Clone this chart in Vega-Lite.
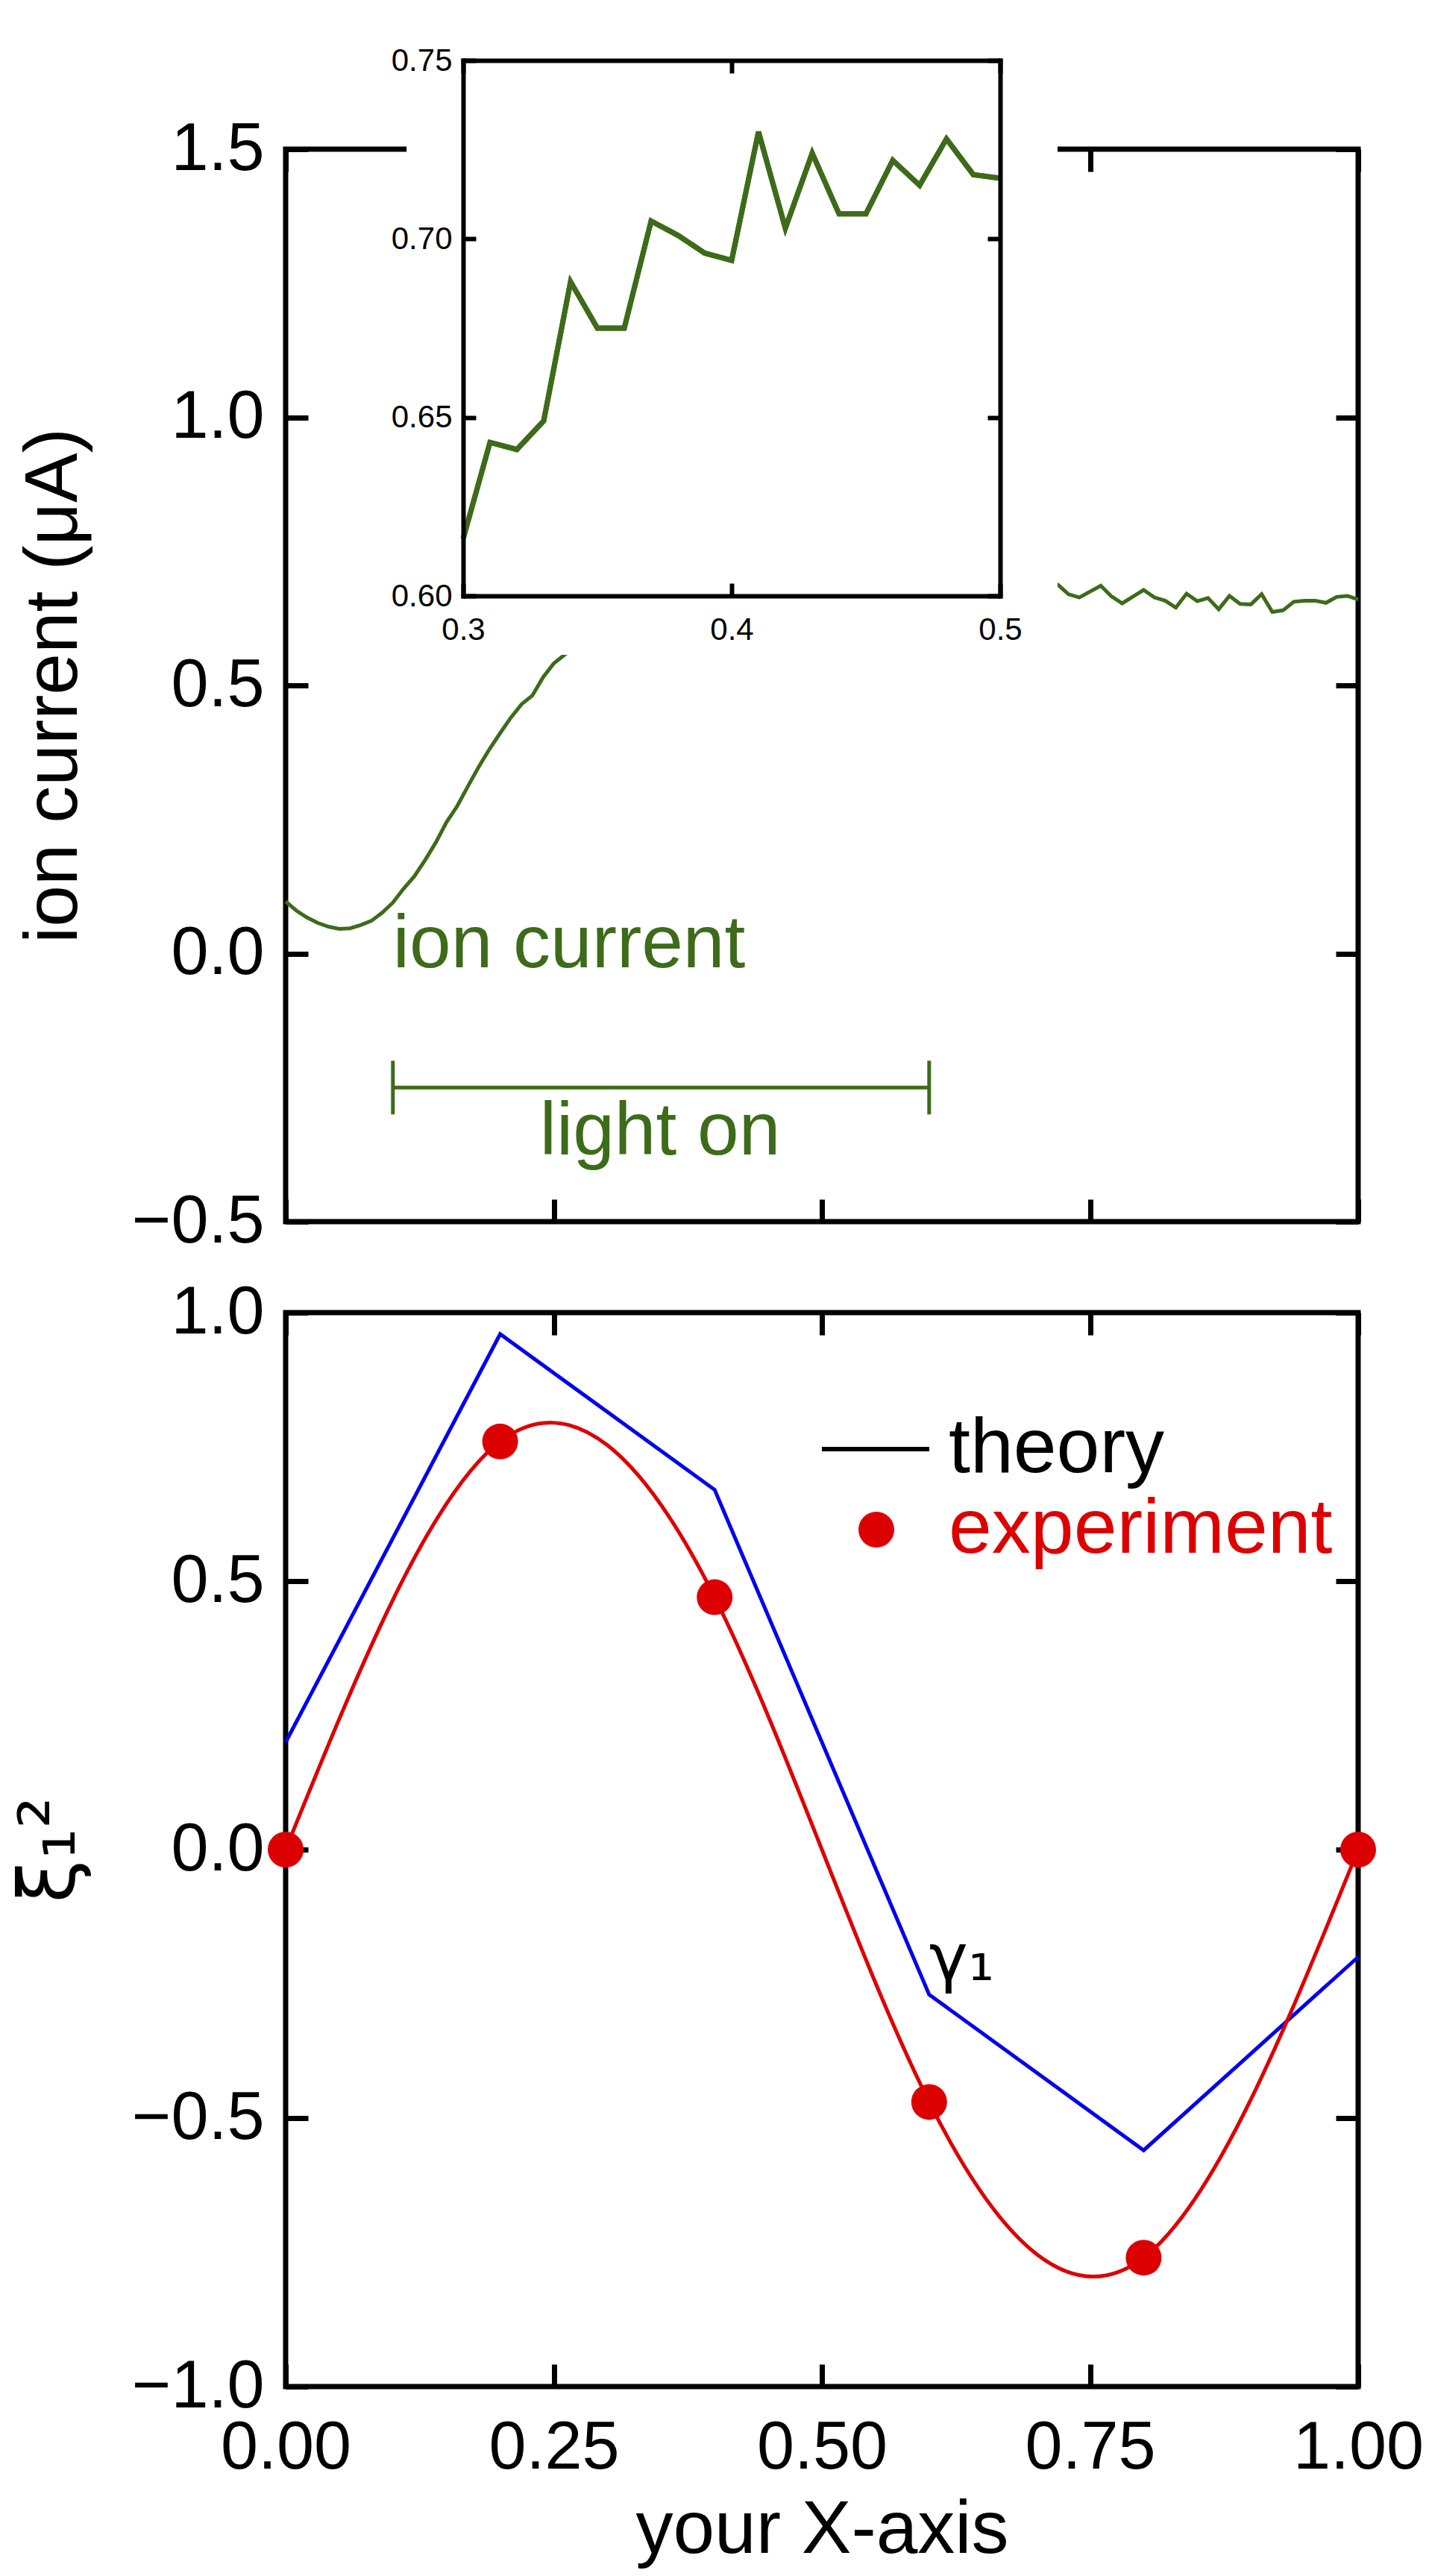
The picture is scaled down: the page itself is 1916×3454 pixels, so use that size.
{
  "$schema": "https://vega.github.io/schema/vega-lite/v6.json",
  "background": "white",
  "padding": {"left": 11, "top": 56, "right": 0, "bottom": 0},
  "spacing": 24,
  "config": {
    "view": {"stroke": "black", "strokeWidth": 7},
    "font": "Liberation Sans",
    "axis": {
      "grid": false,
      "domain": false,
      "tickColor": "black",
      "tickWidth": 7,
      "tickSize": -30,
      "tickCap": "butt",
      "labelFont": "Liberation Sans",
      "labelFontSize": 90,
      "labelColor": "black",
      "labelFlush": false,
      "labelOverlap": false,
      "labelBound": false,
      "titleFont": "Liberation Sans",
      "titleFontSize": 100,
      "titleFontWeight": "normal",
      "titleColor": "black"
    }
  },
  "datasets": {
    "ion": [
      {"x": 0.00, "y": 0.097}, {"x": 0.01, "y": 0.080}, {"x": 0.02, "y": 0.067}, {"x": 0.03, "y": 0.057},
      {"x": 0.04, "y": 0.050}, {"x": 0.05, "y": 0.046}, {"x": 0.06, "y": 0.047}, {"x": 0.07, "y": 0.053},
      {"x": 0.08, "y": 0.061}, {"x": 0.09, "y": 0.076}, {"x": 0.10, "y": 0.095}, {"x": 0.11, "y": 0.121},
      {"x": 0.12, "y": 0.144}, {"x": 0.13, "y": 0.174}, {"x": 0.14, "y": 0.207}, {"x": 0.15, "y": 0.245},
      {"x": 0.16, "y": 0.275}, {"x": 0.17, "y": 0.312}, {"x": 0.18, "y": 0.348}, {"x": 0.19, "y": 0.381},
      {"x": 0.20, "y": 0.411}, {"x": 0.21, "y": 0.440}, {"x": 0.22, "y": 0.465}, {"x": 0.23, "y": 0.481},
      {"x": 0.24, "y": 0.515}, {"x": 0.25, "y": 0.541}, {"x": 0.26, "y": 0.557},
      {"x": 0.30, "y": 0.616}, {"x": 0.31, "y": 0.643}, {"x": 0.32, "y": 0.641}, {"x": 0.33, "y": 0.649},
      {"x": 0.34, "y": 0.688}, {"x": 0.35, "y": 0.675}, {"x": 0.36, "y": 0.675}, {"x": 0.37, "y": 0.705},
      {"x": 0.38, "y": 0.701}, {"x": 0.39, "y": 0.696}, {"x": 0.40, "y": 0.694}, {"x": 0.41, "y": 0.730},
      {"x": 0.42, "y": 0.703}, {"x": 0.43, "y": 0.724}, {"x": 0.44, "y": 0.707}, {"x": 0.45, "y": 0.707},
      {"x": 0.46, "y": 0.722}, {"x": 0.47, "y": 0.715}, {"x": 0.48, "y": 0.728}, {"x": 0.49, "y": 0.718},
      {"x": 0.50, "y": 0.717},
      {"x": 0.72, "y": 0.688}, {"x": 0.73, "y": 0.670}, {"x": 0.74, "y": 0.664}, {"x": 0.76, "y": 0.686},
      {"x": 0.77, "y": 0.666}, {"x": 0.78, "y": 0.653}, {"x": 0.80, "y": 0.678}, {"x": 0.81, "y": 0.664},
      {"x": 0.82, "y": 0.658}, {"x": 0.83, "y": 0.645}, {"x": 0.84, "y": 0.671}, {"x": 0.85, "y": 0.657},
      {"x": 0.86, "y": 0.663}, {"x": 0.87, "y": 0.642}, {"x": 0.88, "y": 0.667}, {"x": 0.89, "y": 0.652},
      {"x": 0.90, "y": 0.651}, {"x": 0.91, "y": 0.670}, {"x": 0.92, "y": 0.637}, {"x": 0.93, "y": 0.640},
      {"x": 0.94, "y": 0.656}, {"x": 0.95, "y": 0.658}, {"x": 0.96, "y": 0.658}, {"x": 0.97, "y": 0.654},
      {"x": 0.98, "y": 0.665}, {"x": 0.99, "y": 0.667}, {"x": 1.00, "y": 0.660}
    ],
    "ionNotes": [
      {"label": "ion current", "x": 0.1, "y": -0.026},
      {"label": "light on", "x": 0.237, "y": -0.375}
    ],
    "bracket": [
      {"x": 0.1, "y": -0.25},
      {"x": 0.6, "y": -0.25}
    ],
    "xi": [
      {"series": "theory", "x": 0.0, "y": 0.20},
      {"series": "theory", "x": 0.2, "y": 0.96},
      {"series": "theory", "x": 0.4, "y": 0.67},
      {"series": "theory", "x": 0.6, "y": -0.27, "note": "γ₁"},
      {"series": "theory", "x": 0.8, "y": -0.56},
      {"series": "theory", "x": 1.0, "y": -0.20},
      {"series": "experiment", "x": 0.0, "y": 0.00},
      {"series": "experiment", "x": 0.2, "y": 0.76},
      {"series": "experiment", "x": 0.4, "y": 0.47},
      {"series": "experiment", "x": 0.6, "y": -0.47},
      {"series": "experiment", "x": 0.8, "y": -0.76},
      {"series": "experiment", "x": 1.0, "y": 0.00}
    ]
  },
  "resolve": {
    "scale": {"color": "independent", "strokeDash": "independent"},
    "legend": {"color": "independent", "strokeDash": "independent"}
  },
  "vconcat": [
    {
      "width": 1438,
      "height": 1438,
      "layer": [
        {
          "layer": [
            {
              "data": {"name": "ion"},
              "mark": {"type": "line", "color": "#3d6b1a", "strokeWidth": 5},
              "encoding": {
                "x": {"field": "x", "type": "quantitative", "scale": {"domain": [0, 1], "nice": false, "zero": false},
                      "axis": {"orient": "bottom", "values": [0, 0.25, 0.5, 0.75, 1], "labels": false, "title": null}},
                "y": {"field": "y", "type": "quantitative", "scale": {"domain": [-0.5, 1.5], "nice": false, "zero": false},
                      "axis": {"orient": "left", "values": [-0.5, 0, 0.5, 1, 1.5], "format": ".1f", "labelPadding": 59, "title": "ion current (μA)", "titlePadding": 60}}
              }
            },
            {
              "data": {"name": "ionNotes"},
              "mark": {"type": "text", "color": "#3d6b1a", "font": "Liberation Sans", "fontSize": 100, "align": "left", "baseline": "alphabetic"},
              "encoding": {
                "x": {"field": "x", "type": "quantitative",
                      "axis": {"orient": "top", "values": [0, 0.25, 0.5, 0.75, 1], "labels": false, "title": null}},
                "y": {"field": "y", "type": "quantitative",
                      "axis": {"orient": "right", "values": [-0.5, 0, 0.5, 1, 1.5], "labels": false, "title": null}},
                "text": {"field": "label"}
              }
            },
            {
              "data": {"name": "bracket"},
              "mark": {"type": "line", "color": "#3d6b1a", "strokeWidth": 5},
              "encoding": {
                "x": {"field": "x", "type": "quantitative", "axis": null},
                "y": {"field": "y", "type": "quantitative", "axis": null}
              }
            },
            {
              "data": {"name": "bracket"},
              "mark": {"type": "tick", "orient": "vertical", "size": 72, "thickness": 5, "color": "#3d6b1a", "opacity": 1},
              "encoding": {
                "x": {"field": "x", "type": "quantitative", "axis": null},
                "y": {"field": "y", "type": "quantitative", "axis": null}
              }
            },
            {
              "data": {"values": [{}]},
              "mark": {"type": "rect", "color": "white", "opacity": 1, "clip": false},
              "encoding": {
                "x": {"datum": 0.1127, "type": "quantitative", "axis": null},
                "x2": {"datum": 0.7197},
                "y": {"datum": 0.557, "type": "quantitative", "axis": null},
                "y2": {"datum": 1.6}
              }
            }
          ],
          "resolve": {"axis": {"x": "independent", "y": "independent"}}
        },
        {
          "data": {"name": "ion"},
          "transform": [{"filter": "datum.x >= 0.3 && datum.x <= 0.5"}],
          "layer": [
            {
              "mark": {"type": "line", "color": "#3d6b1a", "strokeWidth": 7},
              "encoding": {
                "x": {"field": "x", "type": "quantitative", "scale": {"domain": [0.3, 0.5], "range": [238, 958], "nice": false, "zero": false},
                      "axis": {"orient": "bottom", "offset": -839, "values": [0.3, 0.4, 0.5], "format": ".1f", "domain": true, "domainColor": "black", "domainWidth": 6, "domainCap": "square", "tickSize": -17, "tickWidth": 6, "labelFontSize": 42, "labelPadding": 42, "title": null, "zindex": 1}},
                "y": {"field": "y", "type": "quantitative", "scale": {"domain": [0.6, 0.75], "range": [599, -119], "nice": false, "zero": false},
                      "axis": {"orient": "left", "offset": -238, "values": [0.6, 0.65, 0.7, 0.75], "format": ".2f", "domain": true, "domainColor": "black", "domainWidth": 6, "domainCap": "square", "tickSize": -17, "tickWidth": 6, "labelFontSize": 42, "labelPadding": 32, "title": null, "zindex": 1}}
              }
            },
            {
              "mark": {"type": "line", "color": "#3d6b1a", "strokeWidth": 7},
              "encoding": {
                "x": {"field": "x", "type": "quantitative",
                      "axis": {"orient": "top", "offset": 119, "values": [0.3, 0.4, 0.5], "labels": false, "domain": true, "domainColor": "black", "domainWidth": 6, "domainCap": "square", "tickSize": -17, "tickWidth": 6, "title": null, "zindex": 1}},
                "y": {"field": "y", "type": "quantitative",
                      "axis": {"orient": "right", "offset": -480, "values": [0.6, 0.65, 0.7, 0.75], "labels": false, "domain": true, "domainColor": "black", "domainWidth": 6, "domainCap": "square", "tickSize": -17, "tickWidth": 6, "title": null, "zindex": 1}}
              }
            }
          ],
          "resolve": {"axis": {"x": "independent", "y": "independent"}}
        }
      ],
      "resolve": {"scale": {"x": "independent", "y": "independent"}}
    },
    {
      "width": 1438,
      "height": 1440,
      "data": {"name": "xi"},
      "layer": [
        {
          "transform": [{"filter": "datum.series === 'theory'"}],
          "mark": {"type": "line", "color": "#0000ee", "strokeWidth": 5},
          "encoding": {
            "x": {"field": "x", "type": "quantitative", "scale": {"domain": [0, 1], "nice": false, "zero": false},
                  "axis": {"orient": "bottom", "values": [0, 0.25, 0.5, 0.75, 1], "format": ".2f", "labelPadding": 68, "title": "your X-axis", "titlePadding": 16}},
            "y": {"field": "y", "type": "quantitative", "scale": {"domain": [-1, 1], "nice": false, "zero": false},
                  "axis": {"orient": "left", "values": [-1, -0.5, 0, 0.5, 1], "format": ".1f", "labelPadding": 59, "title": "ξ₁²", "titleFont": "DejaVu Sans", "titleFontSize": 105, "titlePadding": 62}}
          }
        },
        {
          "transform": [{"filter": "datum.series === 'experiment'"}],
          "mark": {"type": "line", "color": "#dd0000", "strokeWidth": 5, "interpolate": "natural"},
          "encoding": {
            "x": {"field": "x", "type": "quantitative",
                  "axis": {"orient": "top", "values": [0, 0.25, 0.5, 0.75, 1], "labels": false, "title": null}},
            "y": {"field": "y", "type": "quantitative",
                  "axis": {"orient": "right", "values": [-1, -0.5, 0, 0.5, 1], "labels": false, "title": null}}
          }
        },
        {
          "transform": [{"filter": "datum.series === 'theory' && false"}],
          "mark": {"type": "line", "color": "black", "strokeWidth": 6},
          "encoding": {
            "x": {"field": "x", "type": "quantitative", "axis": null},
            "y": {"field": "y", "type": "quantitative", "axis": null},
            "strokeDash": {
              "field": "series", "type": "nominal",
              "scale": {"domain": ["theory"], "range": [[1, 0]]},
              "legend": {
                "orient": "none", "legendX": 716, "legendY": 108,
                "title": null, "padding": 0,
                "symbolType": "stroke", "symbolSize": 20736, "symbolStrokeWidth": 6, "symbolStrokeColor": "black",
                "labelFont": "Liberation Sans", "labelFontSize": 104, "labelLimit": 1000, "labelColor": "black",
                "labelOffset": 23
              }
            }
          }
        },
        {
          "transform": [{"filter": "datum.series === 'experiment'"}],
          "mark": {"type": "point", "filled": true, "size": 2304, "opacity": 1},
          "encoding": {
            "x": {"field": "x", "type": "quantitative", "axis": null},
            "y": {"field": "y", "type": "quantitative", "axis": null},
            "color": {
              "field": "series", "type": "nominal",
              "scale": {"domain": ["experiment"], "range": ["#dd0000"]},
              "legend": {
                "orient": "none", "legendX": 740, "legendY": 239,
                "title": null, "padding": 0,
                "symbolType": "circle", "symbolSize": 2304, "symbolStrokeWidth": 0, "symbolOpacity": 1,
                "labelFont": "Liberation Sans", "labelFontSize": 104, "labelLimit": 1000, "labelColor": "#dd0000",
                "labelOffset": 45
              }
            }
          }
        },
        {
          "transform": [{"filter": "isValid(datum.note)"}],
          "mark": {"type": "text", "color": "black", "font": "DejaVu Sans", "fontSize": 88, "align": "left", "baseline": "alphabetic", "dy": -19},
          "encoding": {
            "x": {"field": "x", "type": "quantitative", "axis": null},
            "y": {"field": "y", "type": "quantitative", "axis": null},
            "text": {"field": "note"}
          }
        }
      ],
      "resolve": {"axis": {"x": "independent", "y": "independent"}}
    }
  ]
}
